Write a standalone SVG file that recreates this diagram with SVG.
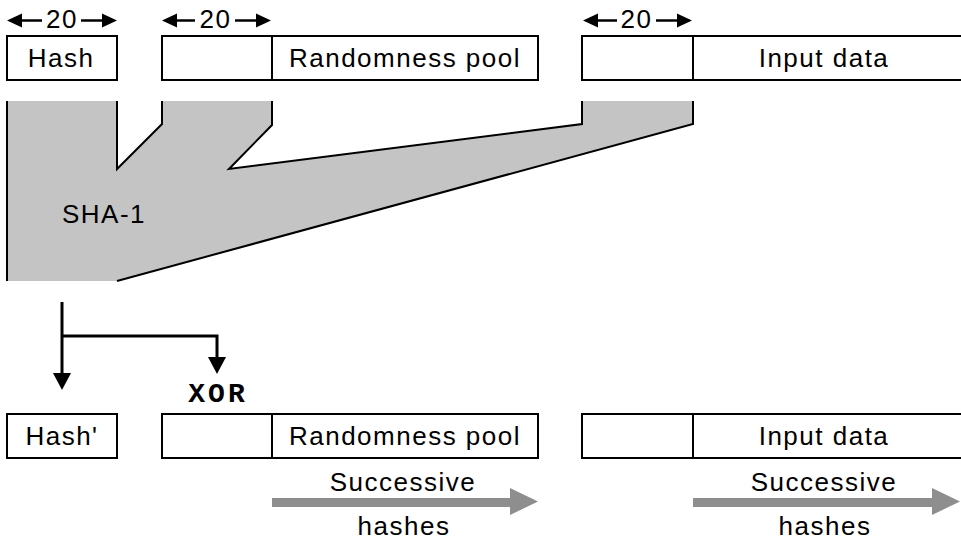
<svg xmlns="http://www.w3.org/2000/svg" width="961" height="540" viewBox="0 0 961 540">
<style>
.box{fill:#fff;stroke:#000;stroke-width:2}
.t{font-family:"Liberation Sans",Arial,sans-serif;font-size:26px;letter-spacing:1.5px;fill:#000;text-anchor:middle}
.dim{stroke:#000;stroke-width:2.5;fill:none}
.ah{fill:#000}
.out{fill:none;stroke:#000;stroke-width:2;stroke-linejoin:miter}
.conn{fill:none;stroke:#000;stroke-width:3}
.garrow{fill:#8e8e8e}
.xor{font-family:"Liberation Mono","Courier New",monospace;font-weight:bold;font-size:28px;letter-spacing:3px;text-anchor:middle;fill:#000}
</style>

<g id="dims">
<g id="dim1">
<line class="dim" x1="16" y1="20.5" x2="42" y2="20.5"/><path class="ah" d="M7,20.5 L22,13.5 L22,27.5 Z"/>
<line class="dim" x1="81" y1="20.5" x2="108" y2="20.5"/><path class="ah" d="M117,20.5 L102,13.5 L102,27.5 Z"/>
<text class="t" x="62" y="28">20</text>
</g>
<g id="dim2">
<line class="dim" x1="170" y1="20.5" x2="195" y2="20.5"/><path class="ah" d="M162,20.5 L177,13.5 L177,27.5 Z"/>
<line class="dim" x1="235" y1="20.5" x2="262" y2="20.5"/><path class="ah" d="M271,20.5 L256,13.5 L256,27.5 Z"/>
<text class="t" x="215.5" y="28">20</text>
</g>
<g id="dim3">
<line class="dim" x1="591" y1="20.5" x2="617" y2="20.5"/><path class="ah" d="M583,20.5 L598,13.5 L598,27.5 Z"/>
<line class="dim" x1="656" y1="20.5" x2="684" y2="20.5"/><path class="ah" d="M692,20.5 L677,13.5 L677,27.5 Z"/>
<text class="t" x="636.5" y="28">20</text>
</g>
</g>

<g id="hash">
<rect class="box" x="7" y="36" width="110" height="44"/>
<text class="t" x="61" y="67">Hash</text>
</g>
<g id="pool-top">
<rect class="box" x="162" y="36" width="110" height="44"/>
<rect class="box" x="272" y="36" width="266" height="44"/>
<text class="t" x="405" y="67">Randomness pool</text>
</g>
<g id="input-top">
<rect class="box" x="582" y="36" width="111" height="44"/>
<rect class="box" x="693" y="36" width="270" height="44"/>
<text class="t" x="824" y="67">Input data</text>
</g>

<g id="sha1">
<polygon fill="#c4c4c4" points="7,101 117,101 117,169 162,124 162,101 272,101 272,125 229,169 582,124 582,101 693,101 693,124 117,281 7,281"/>
<polyline class="out" points="7,101 7,281"/>
<polyline class="out" points="117,101 117,169 162,124 162,101"/>
<polyline class="out" points="272,101 272,125 229,169 582,124 582,101"/>
<polyline class="out" points="693,101 693,124 117,281"/>
<text class="t" x="104" y="223">SHA-1</text>
</g>

<g id="connectors">
<polyline class="conn" points="62,302 62,374"/>
<path class="ah" d="M53,373 L71,373 L62,390 Z"/>
<polyline class="conn" points="62,336 217,336 217,358"/>
<path class="ah" d="M208,357 L226,357 L217,374 Z"/>
</g>

<g id="xor">
<text class="xor" x="218" y="402">XOR</text>
</g>

<g id="hash2">
<rect class="box" x="7" y="414" width="110" height="44"/>
<text class="t" x="62" y="445">Hash'</text>
</g>
<g id="pool-bottom">
<rect class="box" x="162" y="414" width="110" height="44"/>
<rect class="box" x="272" y="414" width="266" height="44"/>
<text class="t" x="405" y="445">Randomness pool</text>
</g>
<g id="input-bottom">
<rect class="box" x="582" y="414" width="111" height="44"/>
<rect class="box" x="693" y="414" width="270" height="44"/>
<text class="t" x="824" y="445">Input data</text>
</g>

<g id="successive1">
<path class="garrow" d="M272,498 L510,498 L510,488 L538,501.5 L510,515 L510,507 L272,507 Z"/>
<text class="t" x="403" y="491">Successive</text>
<text class="t" x="404" y="535">hashes</text>
</g>
<g id="successive2">
<path class="garrow" d="M693,498 L932,498 L932,488 L960,501.5 L932,515 L932,507 L693,507 Z"/>
<text class="t" x="824" y="491">Successive</text>
<text class="t" x="825" y="535">hashes</text>
</g>
</svg>
